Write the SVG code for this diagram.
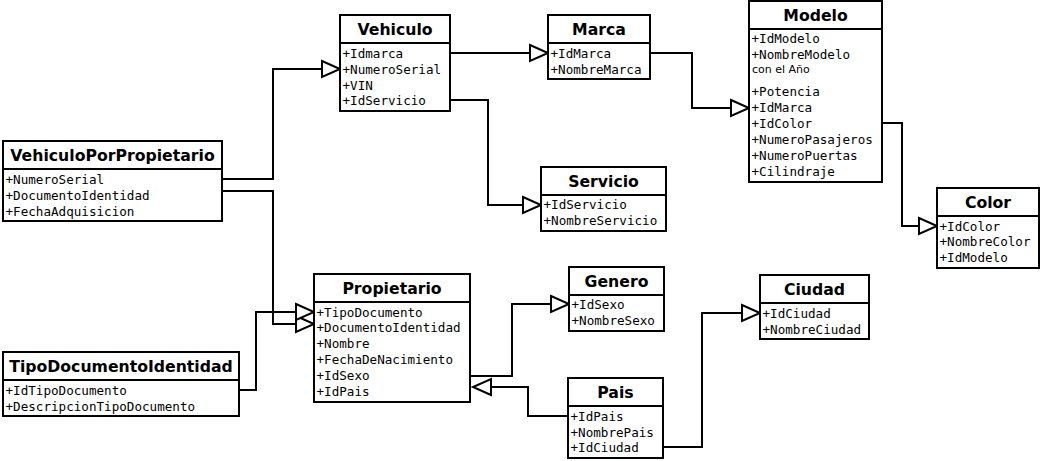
<svg xmlns="http://www.w3.org/2000/svg" width="1042" height="461" viewBox="0 0 1042 461">
<style>
.box{fill:#fff;stroke:#000;stroke-width:2}
.sep{stroke:#000;stroke-width:2}
.h{font-family:"DejaVu Sans",sans-serif;font-weight:bold;font-size:15.7px;text-anchor:middle;fill:#000}
.r{font-family:"DejaVu Sans Mono",monospace;font-size:12.6px;fill:#000}
.s{font-family:"DejaVu Sans",sans-serif;font-size:11px;fill:#000}
.c{fill:none;stroke:#000;stroke-width:2}
</style>
<defs>
<marker id="tri" viewBox="-1 -1 20 18" refX="18" refY="8" markerWidth="20" markerHeight="18" markerUnits="userSpaceOnUse" orient="auto" overflow="visible">
<path d="M0,0 L18,8 L0,16 Z" fill="#fff" stroke="#000" stroke-width="2"/>
</marker>
</defs>
<g id="connectors">
<path class="c" d="M222,179 H273 V69 H340" marker-end="url(#tri)"/>
<path class="c" d="M222,191 H273 V324 H314" marker-end="url(#tri)"/>
<path class="c" d="M239,390 H256 V312 H314" marker-end="url(#tri)"/>
<path class="c" d="M450,53 H548" marker-end="url(#tri)"/>
<path class="c" d="M450,100 H488 V205 H541" marker-end="url(#tri)"/>
<path class="c" d="M650,53 H692 V108 H749" marker-end="url(#tri)"/>
<path class="c" d="M882,123 H902 V226 H937" marker-end="url(#tri)"/>
<path class="c" d="M470,376 H512 V304 H569" marker-end="url(#tri)"/>
<path class="c" d="M568,416 H528 V387 H473" marker-end="url(#tri)"/>
<path class="c" d="M663,447 H702 V313 H760" marker-end="url(#tri)"/>
</g>
<g id="Vehiculo">
<rect class="box" x="340" y="15" width="110" height="96"/>
<line class="sep" x1="340" y1="43" x2="450" y2="43"/>
<text class="h" x="395" y="34.7">Vehiculo</text>
<text class="r" x="342.5" y="57.5">+Idmarca</text>
<text class="r" x="342.5" y="73.5">+NumeroSerial</text>
<text class="r" x="342.5" y="89.5">+VIN</text>
<text class="r" x="342.5" y="105">+IdServicio</text>
</g>
<g id="VehiculoPorPropietario">
<rect class="box" x="3" y="141" width="219" height="80"/>
<line class="sep" x1="3" y1="169" x2="222" y2="169"/>
<text class="h" x="112.5" y="160.7">VehiculoPorPropietario</text>
<text class="r" x="5.5" y="183.5">+NumeroSerial</text>
<text class="r" x="5.5" y="199.5">+DocumentoIdentidad</text>
<text class="r" x="5.5" y="215.5">+FechaAdquisicion</text>
</g>
<g id="Marca">
<rect class="box" x="548" y="15" width="102" height="64"/>
<line class="sep" x1="548" y1="43" x2="650" y2="43"/>
<text class="h" x="599" y="34.7">Marca</text>
<text class="r" x="550.5" y="57.5">+IdMarca</text>
<text class="r" x="550.5" y="73.5">+NombreMarca</text>
</g>
<g id="Modelo">
<rect class="box" x="749" y="1" width="133" height="181"/>
<line class="sep" x1="749" y1="29" x2="882" y2="29"/>
<text class="h" x="815.5" y="20.7">Modelo</text>
<text class="r" x="751.5" y="42.5">+IdModelo</text>
<text class="r" x="751.5" y="58.5">+NombreModelo</text>
<text class="s" x="752" y="73">con el Año</text>
<text class="r" x="751.5" y="95.5">+Potencia</text>
<text class="r" x="751.5" y="111.5">+IdMarca</text>
<text class="r" x="751.5" y="127.5">+IdColor</text>
<text class="r" x="751.5" y="143.5">+NumeroPasajeros</text>
<text class="r" x="751.5" y="159.5">+NumeroPuertas</text>
<text class="r" x="751.5" y="175.5">+Cilindraje</text>
</g>
<g id="Servicio">
<rect class="box" x="541" y="167" width="125" height="64"/>
<line class="sep" x1="541" y1="195" x2="666" y2="195"/>
<text class="h" x="603.5" y="186.7">Servicio</text>
<text class="r" x="543.5" y="208.5">+IdServicio</text>
<text class="r" x="543.5" y="224.5">+NombreServicio</text>
</g>
<g id="Color">
<rect class="box" x="937" y="188" width="102" height="80"/>
<line class="sep" x1="937" y1="216" x2="1039" y2="216"/>
<text class="h" x="988" y="207.7">Color</text>
<text class="r" x="939.5" y="230.5">+IdColor</text>
<text class="r" x="939.5" y="246">+NombreColor</text>
<text class="r" x="939.5" y="261.5">+IdModelo</text>
</g>
<g id="Propietario">
<rect class="box" x="314" y="274" width="156" height="128"/>
<line class="sep" x1="314" y1="302" x2="470" y2="302"/>
<text class="h" x="392" y="293.7">Propietario</text>
<text class="r" x="316.5" y="316.5">+TipoDocumento</text>
<text class="r" x="316.5" y="332">+DocumentoIdentidad</text>
<text class="r" x="316.5" y="348">+Nombre</text>
<text class="r" x="316.5" y="364">+FechaDeNacimiento</text>
<text class="r" x="316.5" y="380">+IdSexo</text>
<text class="r" x="316.5" y="396">+IdPais</text>
</g>
<g id="TipoDocumentoIdentidad">
<rect class="box" x="3" y="352" width="236" height="64"/>
<line class="sep" x1="3" y1="380" x2="239" y2="380"/>
<text class="h" x="121" y="371.7">TipoDocumentoIdentidad</text>
<text class="r" x="5.5" y="394.5">+IdTipoDocumento</text>
<text class="r" x="5.5" y="410.5">+DescripcionTipoDocumento</text>
</g>
<g id="Genero">
<rect class="box" x="569" y="267" width="95" height="64"/>
<line class="sep" x1="569" y1="295" x2="664" y2="295"/>
<text class="h" x="616.5" y="286.7">Genero</text>
<text class="r" x="571.5" y="308.5">+IdSexo</text>
<text class="r" x="571.5" y="324.5">+NombreSexo</text>
</g>
<g id="Pais">
<rect class="box" x="568" y="378" width="95" height="80"/>
<line class="sep" x1="568" y1="406" x2="663" y2="406"/>
<text class="h" x="615.5" y="397.7">Pais</text>
<text class="r" x="570.5" y="420.5">+IdPais</text>
<text class="r" x="570.5" y="436.5">+NombrePais</text>
<text class="r" x="570.5" y="452">+IdCiudad</text>
</g>
<g id="Ciudad">
<rect class="box" x="760" y="275" width="109" height="64"/>
<line class="sep" x1="760" y1="303" x2="869" y2="303"/>
<text class="h" x="814.5" y="294.7">Ciudad</text>
<text class="r" x="762.5" y="317.5">+IdCiudad</text>
<text class="r" x="762.5" y="333.5">+NombreCiudad</text>
</g>
</svg>
